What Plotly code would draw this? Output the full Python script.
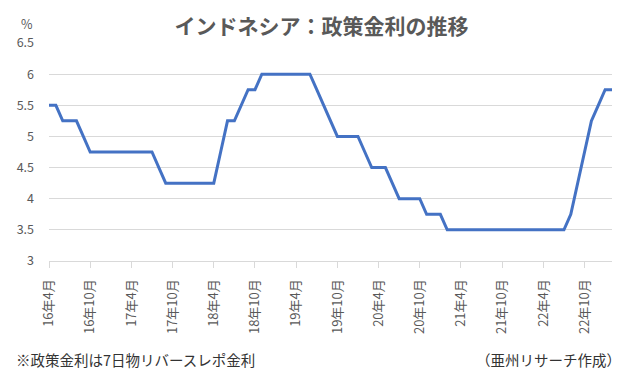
import plotly.graph_objects as go

# Monthly categories: 2016-04 .. 2023-02
months = []
for y in range(16, 24):
    for m in range(1, 13):
        if (y == 16 and m < 4) or (y == 23 and m > 2):
            continue
        months.append(f"{y}年{m}月")

rate = (
    [5.50, 5.50, 5.25, 5.25, 5.25, 5.00]            # 16/4-16/9
    + [4.75] * 10                                    # 16/10-17/7
    + [4.50]                                         # 17/8
    + [4.25] * 8                                     # 17/9-18/4
    + [4.75, 5.25, 5.25, 5.50, 5.75, 5.75]           # 18/5-18/10
    + [6.00] * 8                                     # 18/11-19/6
    + [5.75, 5.50, 5.25]                             # 19/7-19/9
    + [5.00] * 4                                     # 19/10-20/1
    + [4.75, 4.50, 4.50, 4.50, 4.25]                 # 20/2-20/6
    + [4.00] * 4                                     # 20/7-20/10
    + [3.75] * 3                                     # 20/11-21/1
    + [3.50] * 18                                    # 21/2-22/7
    + [3.75, 4.25, 4.75, 5.25, 5.50, 5.75, 5.75]     # 22/8-23/2
)

tick_labels = [months[i] for i in range(0, len(months), 6)]
y_ticks = [3, 3.5, 4, 4.5, 5, 5.5, 6, 6.5]

font_jp = "Noto Sans CJK JP, Noto Sans, sans-serif"
gray = "#595959"

fig = go.Figure()
fig.add_trace(go.Scatter(
    x=months, y=rate, mode="lines",
    line=dict(color="#4472c4", width=3),
    hoverinfo="x+y",
))

fig.update_layout(
    width=643, height=378,
    margin=dict(l=49, r=31, t=43, b=117),
    paper_bgcolor="white", plot_bgcolor="white",
    showlegend=False,
    font=dict(family=font_jp, color=gray, size=12),
    title=dict(
        text="インドネシア：政策金利の推移",
        x=0.5, xref="container", xanchor="center",
        y=1 - 27 / 378, yref="container", yanchor="middle",
        font=dict(size=21, color=gray, family=font_jp, weight="bold"),
    ),
)

fig.update_xaxes(
    type="category",
    categoryorder="array", categoryarray=months,
    range=[0, len(months) - 1],
    tickmode="array", tickvals=tick_labels, ticktext=tick_labels,
    tickangle=-90,
    ticks="outside", ticklen=6, tickcolor="#d9d9d9",
    ticklabelstandoff=6,
    showgrid=False,
    showline=True, linecolor="#d9d9d9", linewidth=1,
    tickfont=dict(size=13, color=gray, family=font_jp),
)

fig.update_yaxes(
    range=[3, 6.5],
    tickmode="array", tickvals=y_ticks,
    showgrid=True, gridcolor="#d9d9d9", gridwidth=1,
    zeroline=False, showline=False,
    ticks="", ticklabelstandoff=14,
    tickfont=dict(size=12.5, color=gray, family=font_jp),
)

fig.add_annotation(
    text="%", xref="paper", yref="paper",
    x=-22.5 / 563, y=1 + 19 / 218, xanchor="center", yanchor="middle",
    showarrow=False, font=dict(size=12.5, color=gray, family=font_jp),
)
fig.add_annotation(
    text="※政策金利は7日物リバースレポ金利", xref="paper", yref="paper",
    x=-35 / 563, y=-(359 - 261) / 218, xanchor="left", yanchor="middle",
    showarrow=False, font=dict(size=14.5, color="#333333", family=font_jp),
)
fig.add_annotation(
    text="（亜州リサーチ作成）", xref="paper", yref="paper",
    x=(623 - 49) / 563, y=-(359 - 261) / 218, xanchor="right", yanchor="middle",
    showarrow=False, font=dict(size=14.5, color="#333333", family=font_jp),
)

fig.write_html(
    "out.html",
    config={"displayModeBar": False},
    post_script="document.body.style.margin='0';document.body.style.overflow='hidden';",
)
